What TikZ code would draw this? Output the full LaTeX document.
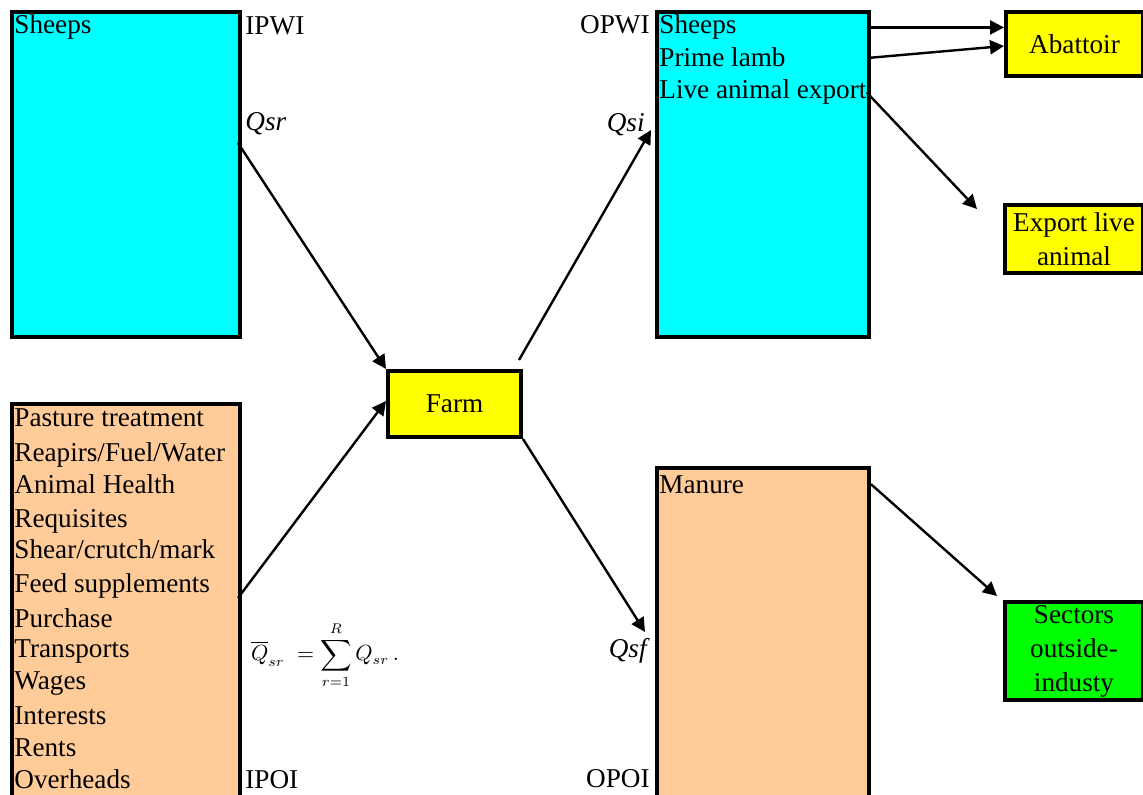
\documentclass[tikz,border=0pt]{standalone}
\usepackage{fontspec}
\setmainfont{Liberation Serif}
\usepackage{amsmath}
\usetikzlibrary{positioning,arrows.meta}
\definecolor{poolcyan}{RGB}{0,255,255}
\definecolor{poolpeach}{RGB}{255,204,153}
\definecolor{sinkyellow}{RGB}{255,255,0}
\definecolor{sinkgreen}{RGB}{0,255,0}
\tikzset{
  pool/.style={draw,line width=2pt,inner sep=0pt,anchor=north west},
  sink/.style={pool,align=center,font=\fontsize{13.6}{17}\selectfont},
  row/.style={anchor=base west,inner sep=0pt,font=\fontsize{13.6}{16.5}\selectfont},
  tag/.style={inner sep=0pt,font=\fontsize{13.6}{16.5}\selectfont},
  flow/.style={-{Triangle[length=7pt,width=7pt]},line width=1.2pt}
}
\begin{document}
\begin{tikzpicture}[x=0.5pt,y=-0.5pt]
   \useasboundingbox (0,0) rectangle (1143,795);
   % pools
   \node[pool,fill=poolcyan,minimum width=114pt,minimum height=162.5pt] (ipwi) at (10,10) {};
   \node[pool,fill=poolpeach,minimum width=114pt,minimum height=200pt] (ipoi) at (10,402) {};
   \node[sink,fill=sinkyellow,minimum width=66.5pt,minimum height=33pt] (farm) at (386,369) {Farm};
   \node[pool,fill=poolcyan,minimum width=106pt,minimum height=162.5pt] (opwi) at (655,10) {};
   \node[pool,fill=poolpeach,minimum width=106pt,minimum height=170pt] (opoi) at (655,466) {};
   \node[sink,fill=sinkyellow,minimum width=68.5pt,minimum height=32pt] (abattoir) at (1004,10) {Abattoir};
   \node[sink,fill=sinkyellow,minimum width=69pt,minimum height=34pt] (export) at (1003,203) {Export live\\animal};
   \node[sink,fill=sinkgreen,minimum width=69pt,minimum height=49pt] (sectors) at (1003,600) {Sectors\\outside-\\industy};
   % rows
   \node[row] (insheeps) at (14,34) {Sheeps};
   \foreach \name/\y/\txt in {pasture/427/Pasture treatment,repairs/461/{Reapirs/Fuel/Water},
       health/493/Animal Health,requisites/527/Requisites,shear/558/{Shear/crutch/mark},
       feed/592/Feed supplements,purchase/627/Purchase,transports/657/Transports,
       wages/689/Wages,interests/724/Interests,rents/756/Rents,overheads/788/Overheads}
     \node[row] (\name) at (14,\y) {\txt};
   \node[row] (outsheeps) at (659,34) {Sheeps};
   \node[row] (lamb) at (659,67) {Prime lamb};
   \node[row,fill=poolcyan] (live) at (659,99) {Live animal export};
   \node[row] (manure) at (659,493) {Manure};
   % labels
   \node[tag,anchor=base west] (ipwilab) at (245,35) {IPWI};
   \node[tag,anchor=base west] (qsr) at (245,131) {\itshape Qsr};
   \node[tag,anchor=base west] (ipoilab) at (245,788) {IPOI};
   \node[tag,anchor=base east] (opwilab) at (650,34) {OPWI};
   \node[tag,anchor=base east] (qsi) at (645,132) {\itshape Qsi};
   \node[tag,anchor=base east] (qsf) at (647,657) {\itshape Qsf};
   \node[tag,anchor=base east] (opoilab) at (650,787) {OPOI};
   \node[inner sep=0pt,font=\fontsize{10.5}{12}\selectfont] (sum) at (325,655)
     {$\overline{Q}_{sr} \;=\displaystyle\sum_{r=1}^{R} Q_{sr}\,.$};
   % flow ends
   \coordinate (srout) at (238,143);
   \coordinate (inout) at (238,598);
   \coordinate (farmup) at (519,360);
   \coordinate (siin) at (651,130);
   \coordinate (sfin) at (645,632);
   \path[flow]
    (srout) edge (farm.north west)
    (inout) edge ([yshift=19pt]farm.south west)
    (farmup) edge (siin)
    (farm.south east) edge (sfin)
    (opwi.east |- outsheeps) edge (abattoir.west |- outsheeps)
    (opwi.east |- lamb) edge ([yshift=-1pt]abattoir.west)
    (live.east) edge ([xshift=-13pt,yshift=-3pt]export.north west)
    (manure.east -| opoi.east) edge ([xshift=-3pt,yshift=2pt]sectors.north west);
\end{tikzpicture}
\end{document}
